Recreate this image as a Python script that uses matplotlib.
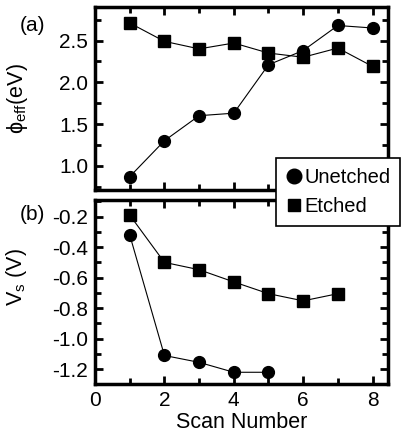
import matplotlib
matplotlib.use("Agg")
import matplotlib.pyplot as plt
from matplotlib.ticker import MultipleLocator

plt.rcParams['font.family'] = ['Liberation Sans', 'DejaVu Sans']
plt.rcParams['mathtext.fontset'] = 'custom'
plt.rcParams['mathtext.rm'] = 'Liberation Sans'
plt.rcParams['mathtext.it'] = 'Liberation Sans'
plt.rcParams['axes.unicode_minus'] = False

# scan numbers
scan_top = [1, 2, 3, 4, 5, 6, 7, 8]
scan_bot_unetched = [1, 2, 3, 4, 5]
scan_bot_etched = [1, 2, 3, 4, 5, 6, 7]

# (a) effective work function (eV)
phi_unetched = [0.87, 1.30, 1.60, 1.63, 2.21, 2.38, 2.68, 2.65]
phi_etched = [2.71, 2.49, 2.40, 2.47, 2.35, 2.30, 2.41, 2.19]

# (b) surface potential (V)
vs_unetched = [-0.32, -1.11, -1.155, -1.22, -1.22]
vs_etched = [-0.19, -0.50, -0.548, -0.628, -0.705, -0.752, -0.705]

fig = plt.figure(figsize=(4.01, 4.45), dpi=100)
ax1 = fig.add_axes([0.237, 0.573, 0.731, 0.411])
ax2 = fig.add_axes([0.237, 0.136, 0.731, 0.415])

line_kw = dict(color='black', linewidth=0.8)
ax1.plot(scan_top, phi_unetched, marker='o', markersize=8.5, **line_kw)
ax1.plot(scan_top, phi_etched, marker='s', markersize=8, **line_kw)
ax2.plot(scan_bot_unetched, vs_unetched, marker='o', markersize=8.5, **line_kw)
ax2.plot(scan_bot_etched, vs_etched, marker='s', markersize=8, **line_kw)

for ax in (ax1, ax2):
    ax.set_xlim(0, 8.45)
    ax.xaxis.set_major_locator(MultipleLocator(2))
    ax.xaxis.set_minor_locator(MultipleLocator(1))
    ax.tick_params(which='both', direction='in', top=True, right=True,
                   width=2, labelsize=15, pad=5)
    ax.tick_params(which='major', length=6)
    ax.tick_params(which='minor', length=4)
    for s in ax.spines.values():
        s.set_linewidth(2.5)

ax1.set_ylim(0.71, 2.9)
ax1.yaxis.set_major_locator(MultipleLocator(0.5))
ax1.yaxis.set_minor_locator(MultipleLocator(0.25))
ax1.tick_params(labelbottom=False)
ax1.set_ylabel(r'ϕ$_{\mathrm{eff}}$(eV)', fontsize=15.5)
ax1.yaxis.set_label_coords(-0.222, 0.5)

ax2.set_ylim(-1.30, -0.09)
ax2.yaxis.set_major_locator(MultipleLocator(0.2))
ax2.yaxis.set_minor_locator(MultipleLocator(0.1))
ax2.set_ylabel(r'V$_{\mathrm{s}}$ (V)', fontsize=15.5)
ax2.yaxis.set_label_coords(-0.225, 0.58)
ax2.set_xlabel('Scan Number', fontsize=15.5, labelpad=1)

fig.text(0.08, 0.942, '(a)', fontsize=15, ha='center', va='center')
fig.text(0.08, 0.519, '(b)', fontsize=15, ha='center', va='center')

# legend with marker-only handles
h1, = ax2.plot([], [], 'o', color='black', markersize=10.5)
h2, = ax2.plot([], [], 's', color='black', markersize=9)
leg = fig.legend([h1, h2], ['Unetched', 'Etched'], loc='upper right',
                 bbox_to_anchor=(0.998, 0.645), frameon=True, fancybox=False,
                 edgecolor='black', framealpha=1, fontsize=14.5,
                 handlelength=0.8, handletextpad=0.1, borderpad=0.5,
                 labelspacing=0.5, borderaxespad=0)
leg.get_frame().set_linewidth(1.2)

fig.savefig('out.png', dpi=100)
